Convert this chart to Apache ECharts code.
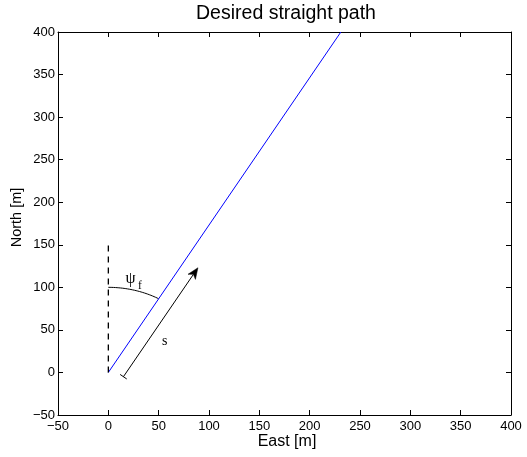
<!DOCTYPE html>
<html>
<head>
<meta charset="utf-8">
<script src="https://cdn.jsdelivr.net/npm/echarts@6/dist/echarts.min.js"></script>
<style>
  html, body { margin: 0; padding: 0; background: #fff; }
  #chart { width: 527px; height: 457px; }
</style>
</head>
<body>
<div id="chart"></div>
<script>
// Axis range (metres)
const axisMin = -50;
const axisMax = 400;
const axisStep = 50;

// Desired straight path, heading psi_f from north
const pathEast = [0, 231];
const pathNorth = [0, 400];

// Dashed north reference line through the origin
const refEast = [0, 0];
const refNorth = [0, 150];

// Heading arc: radius in metres, heading in degrees
const arcRadius = 100;
const headingDeg = 30;

// Along-track arrow "s": tail and tip (east, north)
const arrowTail = [15, -5];
const arrowTip = [89, 123];

// Annotation text positions (east, north)
const psiPos = [22, 110];
const sPos = [56, 36];

const fmt = v => String(v).replace('-', '\u2212');
const font = 'Liberation Sans, Arial, Helvetica, sans-serif';
const serif = 'Liberation Serif, Times New Roman, serif';

function axisBase(pos, showLabel, margin) {
  return {
    type: 'value', position: pos,
    min: axisMin, max: axisMax, interval: axisStep,
    axisLine: { show: true, onZero: false, lineStyle: { color: '#000', width: 1 } },
    axisTick: { show: true, inside: true, length: 5, lineStyle: { color: '#000' } },
    axisLabel: { show: showLabel, formatter: fmt, color: '#000', fontSize: 13, fontFamily: font, margin: margin || 4 },
    splitLine: { show: false }
  };
}

const chart = echarts.init(document.getElementById('chart'));
chart.setOption({
  animation: false,
  backgroundColor: '#fff',
  grid: { left: 58, right: 16, top: 32, bottom: 42 },
  xAxis: [axisBase('bottom', true, 5), axisBase('top', false)],
  yAxis: [axisBase('left', true, 3), axisBase('right', false)],
  graphic: [
    { type: 'text', x: 286, y: 14,
      style: { text: 'Desired straight path', fontSize: 19.5, fontFamily: font, fill: '#000', align: 'center', verticalAlign: 'middle' } },
    { type: 'text', x: 287, y: 442,
      style: { text: 'East [m]', fontSize: 16, fontFamily: font, fill: '#000', align: 'center', verticalAlign: 'middle' } },
    { type: 'text', x: 17, y: 217.5, rotation: Math.PI / 2,
      style: { text: 'North [m]', fontSize: 14.5, fontFamily: font, fill: '#000', align: 'center', verticalAlign: 'middle' } }
  ],
  series: [
    {
      type: 'line', name: 'path', xAxisIndex: 0, yAxisIndex: 0,
      data: pathEast.map((e, i) => [e, pathNorth[i]]),
      showSymbol: false, lineStyle: { color: '#0000ff', width: 1 }
    },
    {
      type: 'line', name: 'north ref', xAxisIndex: 0, yAxisIndex: 0,
      data: refEast.map((e, i) => [e, refNorth[i]]),
      showSymbol: false, lineStyle: { color: '#000', width: 1.3, type: [6, 5] }
    },
    {
      type: 'custom', xAxisIndex: 0, yAxisIndex: 0,
      data: [[0, 0]],
      renderItem: function (params, api) {
        const children = [];
        // heading arc from north to the path direction
        const pts = [];
        const steps = 30;
        for (let k = 0; k <= steps; k++) {
          const a = headingDeg * k / steps * Math.PI / 180;
          pts.push(api.coord([arcRadius * Math.sin(a), arcRadius * Math.cos(a)]));
        }
        children.push({ type: 'polyline', shape: { points: pts },
          style: { stroke: '#000', lineWidth: 1, fill: null } });

        // along-track arrow
        const t = api.coord(arrowTail), h = api.coord(arrowTip);
        const dx = h[0] - t[0], dy = h[1] - t[1];
        const len = Math.sqrt(dx * dx + dy * dy);
        const ux = dx / len, uy = dy / len, px = -uy, py = ux;
        const headL = 11, headW = 4.5, notch = 3;
        const base = [h[0] - ux * headL, h[1] - uy * headL];
        children.push({ type: 'line',
          shape: { x1: t[0], y1: t[1], x2: h[0] - ux * (headL - notch), y2: h[1] - uy * (headL - notch) },
          style: { stroke: '#000', lineWidth: 1 } });
        children.push({ type: 'polygon', shape: { points: [
            h,
            [base[0] + px * headW, base[1] + py * headW],
            [h[0] - ux * (headL - notch), h[1] - uy * (headL - notch)],
            [base[0] - px * headW, base[1] - py * headW]
          ] }, style: { fill: '#000', stroke: '#000', lineWidth: 0.5 } });
        const bar = 4;
        children.push({ type: 'line',
          shape: { x1: t[0] + px * bar, y1: t[1] + py * bar, x2: t[0] - px * bar, y2: t[1] - py * bar },
          style: { stroke: '#000', lineWidth: 1 } });

        // labels
        const p = api.coord(psiPos);
        children.push({ type: 'text', x: p[0], y: p[1],
          style: { text: 'ψ', fontSize: 16, fontFamily: serif, fill: '#000', align: 'center', verticalAlign: 'middle' } });
        children.push({ type: 'text', x: p[0] + 9.5, y: p[1] + 7,
          style: { text: 'f', fontSize: 11.5, fontFamily: serif, fill: '#000', align: 'center', verticalAlign: 'middle' } });
        const s = api.coord(sPos);
        children.push({ type: 'text', x: s[0], y: s[1],
          style: { text: 's', fontSize: 14, fontFamily: serif, fill: '#000', align: 'center', verticalAlign: 'middle' } });
        return { type: 'group', children: children };
      }
    }
  ]
});
</script>
</body>
</html>
